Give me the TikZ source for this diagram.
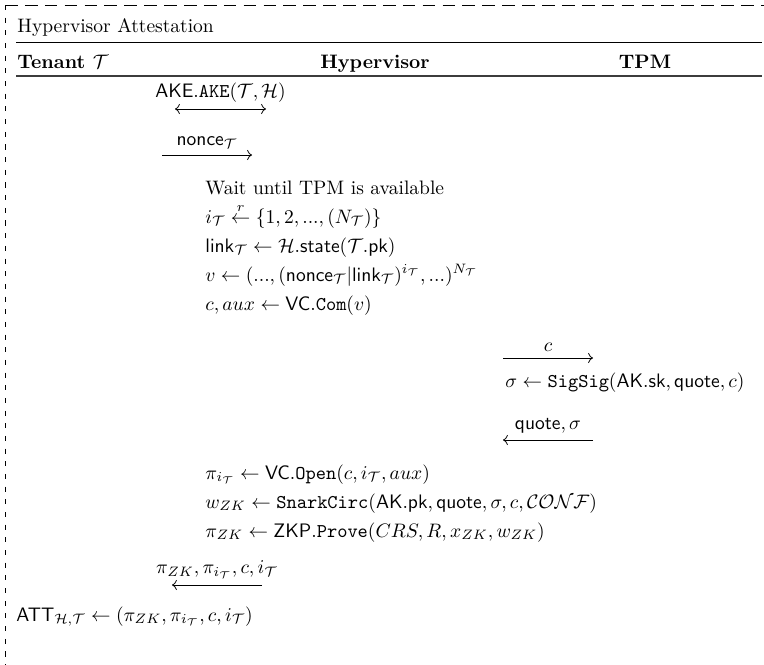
\documentclass[tikz,border=0pt]{standalone}
\usepackage{xcolor}
\definecolor{rulegray}{HTML}{3C3C3C}
\usetikzlibrary{arrows.meta, positioning, calc}
\tikzset{
    rowtext/.style={anchor=base west, inner sep=0pt},
    party/.style={anchor=base, inner sep=0pt, font=\bfseries},
    msg/.style={->, thin},
    msgboth/.style={<->, thin},
    headrule/.style={-, line width=0.5pt},
    subrule/.style={-, line width=0.6pt, rulegray},
    framehoriz/.style={-, thin, dash pattern=on 6.5pt off 3.7pt},
    framevert/.style={-, thin, dash pattern=on 2.6pt off 3.9pt},
}
\newcommand{\tn}{\mathcal{T}}
\begin{document}
\begin{tikzpicture}[x=0.5128pt, y=-0.5128pt]
    \useasboundingbox (0,0) rectangle (764,665);
    % dashed frame (top and left edges)
    \coordinate (frameNW) at (5,5);
    \coordinate (frameNE) at (764,5);
    \coordinate (frameSW) at (5,665);
    \draw[framehoriz] (frameNW) -- (frameNE);
    \draw[framevert] (frameNW) -- (frameSW);
    % title and party headers
    \node[rowtext] (title) at (17,32) {Hypervisor Attestation};
    \coordinate (ruleAw) at (16,42);
    \coordinate (ruleAe) at (762,42);
    \draw[headrule] (ruleAw) -- (ruleAe);
    \node[rowtext, font=\bfseries] (tenant) at (17,68) {Tenant $\tn$};
    \node[party] (hyper) at (375,68) {Hypervisor};
    \node[party] (tpm) at (645,68) {TPM};
    \coordinate (ruleBw) at (16,76);
    \coordinate (ruleBe) at (762,76);
    \draw[subrule] (ruleBw) -- (ruleBe);
    % tenant <-> hypervisor
    \coordinate (akeL) at (175,109);
    \coordinate (akeR) at (266,109);
    \draw[msgboth] (akeL) -- node[above] {$\mathsf{AKE}.\mathtt{AKE}(\tn,\mathcal{H})$} (akeR);
    \coordinate (nonceL) at (162,155);
    \coordinate (nonceR) at (252,155);
    \draw[msg] (nonceL) -- node[above] {$\mathsf{nonce}_{\tn}$} (nonceR);
    % hypervisor steps
    \node[rowtext] (wait) at (205,194) {Wait until TPM is available};
    \node[rowtext] (pick) at (205,223) {$i_{\tn} \stackrel{r}{\leftarrow} \{1,2,...,(N_{\tn})\}$};
    \node[rowtext] (link) at (205,252) {$\mathsf{link}_{\tn} \leftarrow \mathcal{H}.\mathsf{state}(\tn.\mathsf{pk})$};
    \node[rowtext] (vec) at (205,281) {$v \leftarrow (...,(\mathsf{nonce}_{\tn}|\mathsf{link}_{\tn})^{i_{\tn}},...)^{N_{\tn}}$};
    \node[rowtext] (com) at (205,310) {$c, aux \leftarrow \mathsf{VC}.\mathtt{Com}(v)$};
    % hypervisor <-> TPM
    \coordinate (cL) at (503,358);
    \coordinate (cR) at (593,358);
    \draw[msg] (cL) -- node[above] {$c$} (cR);
    \node[rowtext] (sig) at (505,387) {$\sigma \leftarrow \mathtt{SigSig}(\mathsf{AK.sk}, \mathsf{quote}, c)$};
    \coordinate (quoteL) at (503,440);
    \coordinate (quoteR) at (593,440);
    \draw[msg] (quoteR) -- node[above] {$\mathsf{quote}, \sigma$} (quoteL);
    % proof
    \node[rowtext] (open) at (205,479) {$\pi_{i_{\tn}} \leftarrow \mathsf{VC}.\mathtt{Open}(c, i_{\tn}, aux)$};
    \node[rowtext] (wit) at (205,508) {$w_{ZK} \leftarrow \mathtt{SnarkCirc}(\mathsf{AK.pk}, \mathsf{quote}, \sigma, c, \mathcal{CONF})$};
    \node[rowtext] (prove) at (205,537) {$\pi_{ZK} \leftarrow \mathsf{ZKP}.\mathtt{Prove}(CRS, R, x_{ZK}, w_{ZK})$};
    \coordinate (proofL) at (172,585);
    \coordinate (proofR) at (262,585);
    \draw[msg] (proofR) -- node[above] {$\pi_{ZK}, \pi_{i_{\tn}}, c, i_{\tn}$} (proofL);
    \node[rowtext] (att) at (16,621) {$\mathsf{ATT}_{\mathcal{H},\tn} \leftarrow (\pi_{ZK}, \pi_{i_{\tn}}, c, i_{\tn})$};
\end{tikzpicture}
\end{document}
